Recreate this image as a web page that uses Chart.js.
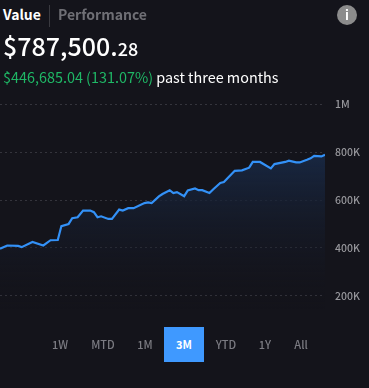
<!DOCTYPE html>
<html lang="en">
<head>
<meta charset="UTF-8">
<title>Portfolio value</title>
<script src="https://cdn.jsdelivr.net/npm/chart.js@4/dist/chart.umd.min.js"></script>
<style>
  html, body { margin: 0; padding: 0; background: #14141b; }
  body { width: 369px; height: 388px; position: relative; overflow: hidden; font-family: "Noto Sans CJK SC", "Noto Sans", sans-serif; color: #fff; }
  .abs { position: absolute; white-space: nowrap; line-height: 1; }
  #chartBox { position: absolute; left: 0; top: 64px; width: 369px; height: 272px; }
  .range { position: absolute; top: 327px; height: 35px; line-height: 35px; text-align: center; font-size: 11px; font-weight: 500; color: #7c7c83; transform: translateX(-50%); }
  .range.active { color: #fff; font-weight: 700; background: #3f99ff; width: 40px; }
</style>
</head>
<body>
  <div id="chartBox"><canvas id="chart"></canvas></div>

  <div class="abs" style="left:3px;top:7px;font-size:14px;font-weight:700">Value</div>
  <div class="abs" style="left:49px;top:5px;width:1px;height:22px;background:#3a3a40"></div>
  <div class="abs" style="left:58px;top:7px;font-size:14px;font-weight:700;color:#6f6f75">Performance</div>
  <div class="abs" style="left:337px;top:5px;width:20px;height:20px;border-radius:50%;background:#8c8c8c;text-align:center;line-height:20px;font-size:13px;font-weight:700">i</div>
  <div class="abs" style="left:3px;top:33px;font-size:25px;font-weight:500">$787,500.<span style="font-size:18px">28</span></div>
  <div class="abs" style="left:3px;top:70px;font-size:14.4px"><span style="color:#1fb866">$446,685.04 (131.07%)</span> past three months</div>

  <div id="ranges"></div>

<script>
// day of the three month window
const days = [0, 2, 5, 6, 9, 12, 14, 16, 17, 19, 20, 21.5, 23, 25, 26, 27, 28, 30, 31, 33, 34, 35.5, 37, 40, 41, 42, 44, 45, 47, 48, 49, 51,
  52, 54, 55, 56, 58, 59, 61, 62, 65, 67, 69, 70, 72, 75, 76, 79, 80, 82, 83, 85, 86, 87, 89, 90];
// value in thousands
const values = [396, 410, 408, 403, 425, 410, 432, 433, 491, 500, 524, 528, 556, 556, 549, 528, 532, 521, 521, 560, 556, 566, 566, 587, 590, 587, 615, 625, 641, 629, 633, 616,
  640, 648, 641, 641, 629, 644, 671, 675, 722, 724, 735, 759, 759, 732, 750, 759, 764, 757, 757, 768, 774, 784, 782, 789];
const tickValues = [200, 400, 600, 800, 1000];
const tickLabels = ['200K', '400K', '600K', '800K', '1M'];
const rangeLabels = ['1W', 'MTD', '1M', '3M', 'YTD', '1Y', 'All'];
const rangeCenters = [60, 103, 145, 184, 226, 265, 301];
const activeRange = '3M';

// range buttons under the chart
const ranges = document.getElementById('ranges');
rangeLabels.forEach((label, i) => {
  const el = document.createElement('div');
  el.className = 'range' + (label === activeRange ? ' active' : '');
  el.style.left = rangeCenters[i] + 'px';
  el.textContent = label;
  ranges.append(el);
});

const points = days.map((d, i) => ({ x: d, y: values[i] }));

new Chart(document.getElementById('chart').getContext('2d'), {
  type: 'line',
  data: {
    datasets: [{
      data: points,
      borderColor: '#3391f7',
      borderWidth: 2.2,
      pointRadius: 0,
      tension: 0,
      fill: 'start',
      backgroundColor: (ctx) => {
        const area = ctx.chart.chartArea;
        if (!area) return 'transparent';
        const grad = ctx.chart.ctx.createLinearGradient(0, area.top + 80, 0, area.bottom - 10);
        grad.addColorStop(0, '#18263f');
        grad.addColorStop(1, 'rgba(20,20,27,0)');
        return grad;
      }
    }]
  },
  options: {
    responsive: true,
    maintainAspectRatio: false,
    animation: false,
    layout: { padding: 0 },
    plugins: { legend: { display: false }, tooltip: { enabled: false } },
    scales: {
      x: { type: 'linear', min: 0, max: 90, display: false },
      y: {
        position: 'right',
        min: 100,
        max: 1100,
        afterBuildTicks: (scale) => { scale.ticks = tickValues.map(v => ({ value: v })); },
        afterFit: (scale) => { scale.width = 44; },
        border: { display: false, dash: [2, 3] },
        grid: { color: '#34343c', lineWidth: 1, drawTicks: false },
        ticks: {
          color: '#97979c',
          padding: 10,
          font: { family: '"Noto Sans CJK SC", "Noto Sans", sans-serif', size: 10.5, weight: '500' },
          callback: (v) => tickLabels[tickValues.indexOf(v)]
        }
      }
    }
  }
});
</script>
</body>
</html>
